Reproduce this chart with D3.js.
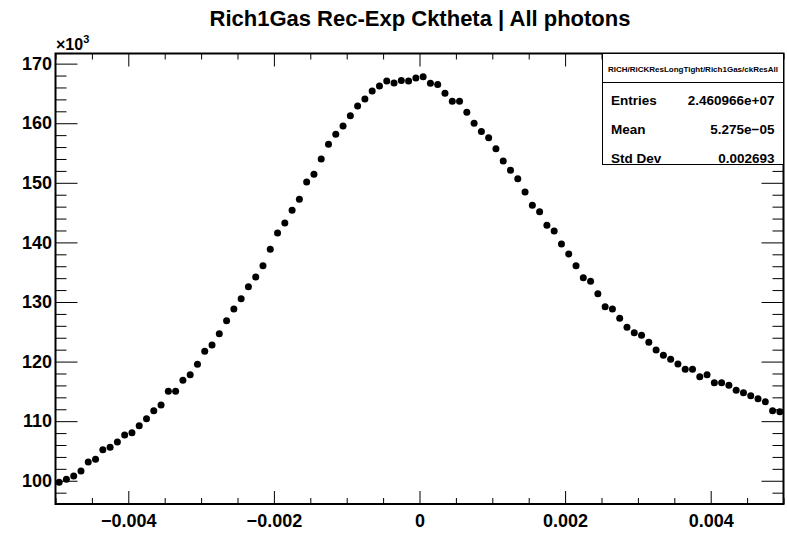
<!DOCTYPE html>
<html><head><meta charset="utf-8">
<script src="https://cdn.jsdelivr.net/npm/d3@7"></script>
<style>
body{margin:0;background:#fff}
svg{display:block}
text{font-family:"Liberation Sans",Arial,Helvetica,sans-serif;font-weight:bold;fill:#000}
</style>
</head><body><svg id="c" width="787" height="533"></svg>
<script>
const title = "Rich1Gas Rec-Exp Cktheta | All photons";
const xRange = [-0.005, 0.005];
const nBins = 100;
// bin contents in units of 10^3
const counts = [
 99.73,100.24,100.79,101.63,103.14,103.59,105.20,105.61,106.50,107.67,
 108.06,109.23,110.41,111.75,112.71,115.01,115.01,116.85,117.79,119.54,
 121.72,122.78,124.68,126.86,128.82,130.55,132.57,134.20,136.09,138.84,
 141.58,143.26,145.39,147.24,150.14,151.43,154.00,156.47,158.15,159.54,
 161.27,162.90,164.08,165.42,166.26,167.10,166.76,167.15,167.10,167.60,
 167.80,166.71,166.48,165.03,163.69,163.69,161.84,160.00,158.59,157.58,
 155.73,153.67,152.11,150.70,148.46,146.23,145.16,142.87,141.92,139.74,
 138.06,136.09,134.08,133.47,131.39,129.21,128.82,127.26,125.75,124.85,
 124.41,123.23,121.94,121.05,120.38,119.59,118.70,118.70,117.46,117.79,
 116.45,116.45,116.01,115.18,114.77,114.27,113.77,113.26,111.75,111.58
];
const yRange = [96.1, 171.7];
const xTickValues = [-0.004, -0.002, 0, 0.002, 0.004];
const xTickLabels = ["\u22120.004", "\u22120.002", "0", "0.002", "0.004"];
const xMinorStep = 0.0005;
const yTickValues = [100, 110, 120, 130, 140, 150, 160, 170];
const yTickLabels = ["100", "110", "120", "130", "140", "150", "160", "170"];
const yMinorStep = 2;
const statsHeader = "RICH/RiCKResLongTight/Rich1Gas/ckResAll";
const statsNames = ["Entries", "Mean", "Std Dev"];
const statsValues = ["2.460966e+07", "5.275e\u221205", "0.002693"];

const L = 55.5, R = 783.5, T = 53.5, B = 504;
const FF = '"Liberation Sans",Arial,sans-serif';
const svg = d3.select("#c");
const x = d3.scaleLinear().domain(xRange).range([L, R]);
const y = d3.scaleLinear().domain(yRange).range([B, T]);
const binW = (xRange[1] - xRange[0]) / nBins;
const data = counts.map((c, i) => ({xc: xRange[0] + (i + 0.5) * binW, v: c}));

const xMinor = d3.range(-0.005, 0.00501, xMinorStep).filter(v => !xTickValues.some(t => Math.abs(t - v) < 1e-9));
const yMinor = d3.range(96, 172, yMinorStep).filter(v => v >= yRange[0] && v <= yRange[1] && !yTickValues.includes(v));

function clean(g){ g.select(".domain").remove(); g.selectAll("line").attr("stroke","#000").attr("stroke-width",1); }

// bottom axis
const xf = d3.scaleOrdinal().domain(xTickValues).range(xTickLabels);
svg.append("g").attr("transform",`translate(0,${B})`)
  .call(d3.axisBottom(x).tickValues(xTickValues).tickSize(-13).tickPadding(10).tickFormat(d => xf(d)))
  .call(clean)
  .call(g => g.selectAll("text").attr("font-size",18).attr("font-family",null).style("font-family",FF));
svg.append("g").attr("transform",`translate(0,${B})`)
  .call(d3.axisBottom(x).tickValues(xMinor).tickSize(-6).tickFormat(""))
  .call(clean);
// top axis
svg.append("g").attr("transform",`translate(0,${T})`)
  .call(d3.axisTop(x).tickValues(xTickValues).tickSize(-13).tickFormat(""))
  .call(clean);
svg.append("g").attr("transform",`translate(0,${T})`)
  .call(d3.axisTop(x).tickValues(xMinor).tickSize(-6).tickFormat(""))
  .call(clean);
// left axis
const yf = d3.scaleOrdinal().domain(yTickValues).range(yTickLabels);
svg.append("g").attr("transform",`translate(${L},0)`)
  .call(d3.axisLeft(y).tickValues(yTickValues).tickSize(-22).tickPadding(3.5).tickFormat(d => yf(d)))
  .call(clean)
  .call(g => g.selectAll("text").attr("font-size",18).attr("font-family",null).style("font-family",FF));
svg.append("g").attr("transform",`translate(${L},0)`)
  .call(d3.axisLeft(y).tickValues(yMinor).tickSize(-11).tickFormat(""))
  .call(clean);
// right axis
svg.append("g").attr("transform",`translate(${R},0)`)
  .call(d3.axisRight(y).tickValues(yTickValues).tickSize(-22).tickFormat(""))
  .call(clean);
svg.append("g").attr("transform",`translate(${R},0)`)
  .call(d3.axisRight(y).tickValues(yMinor).tickSize(-11).tickFormat(""))
  .call(clean);

// markers
svg.append("g").selectAll("circle").data(data).join("circle")
  .attr("cx", d => x(d.xc)).attr("cy", d => y(d.v)).attr("r", 3.5).attr("fill", "#000");

// frame
svg.append("rect").attr("x", L).attr("y", T).attr("width", R - L).attr("height", B - T)
  .attr("fill", "none").attr("stroke", "#000").attr("stroke-width", 2);

// exponent label
const ex = svg.append("text").attr("x", 56).attr("y", 50).attr("font-size", 16);
ex.append("tspan").text("\u00d710");
ex.append("tspan").attr("font-size", 11).attr("dy", -7).text("3");

// title
svg.append("text").attr("x", 420).attr("y", 26).attr("text-anchor", "middle").attr("font-size", 22).text(title);

// stats box
const sb = {x: 602.5, y: 53.5, w: 181, h: 111};
svg.append("rect").attr("x", sb.x).attr("y", sb.y).attr("width", sb.w).attr("height", sb.h)
  .attr("fill", "#fff").attr("stroke", "#000").attr("stroke-width", 1);
svg.append("line").attr("x1", sb.x).attr("x2", sb.x + sb.w).attr("y1", 82.5).attr("y2", 82.5).attr("stroke", "#000");
svg.append("text").attr("x", sb.x + sb.w / 2).attr("y", 71.5).attr("text-anchor", "middle").attr("font-size", 8).text(statsHeader);
const rowY = [104.5, 134, 162.5];
statsNames.forEach((n, i) => {
  svg.append("text").attr("x", 611).attr("y", rowY[i]).attr("font-size", 13.5).text(n);
  svg.append("text").attr("x", 774.5).attr("y", rowY[i]).attr("font-size", 13.5).attr("text-anchor", "end").text(statsValues[i]);
});
</script></body></html>
